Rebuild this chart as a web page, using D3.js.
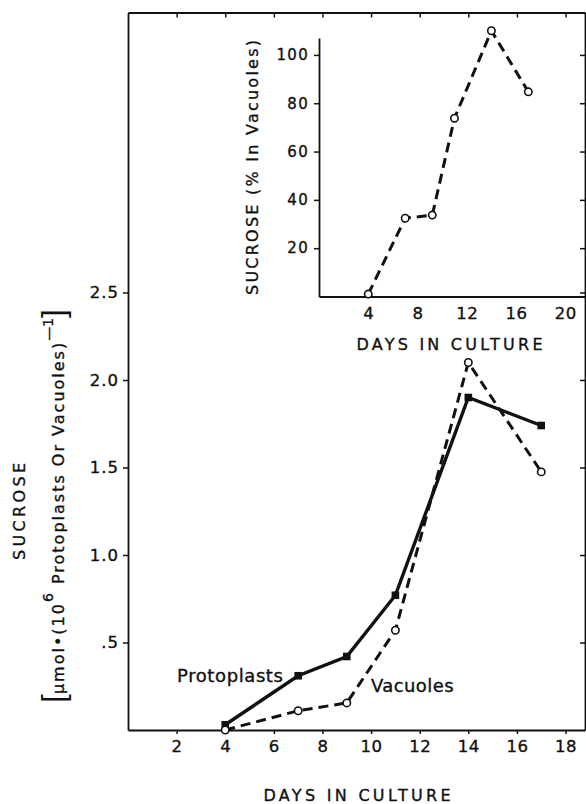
<!DOCTYPE html>
<html>
<head>
<meta charset="utf-8">
<script src="https://cdn.jsdelivr.net/npm/d3@7"></script>
<style>
  body { margin: 0; background: #fff; }
  svg text { font-family: "DejaVu Sans", sans-serif; fill: #111; stroke: #111; stroke-width: 0.35px; }
</style>
</head>
<body>
<div class="chart"></div>
<script>
// ---- data ----
var days = [4, 7, 9, 11, 14, 17];
var protoplasts = [0.03, 0.31, 0.42, 0.77, 1.90, 1.74];
var vacuoles = [0.0, 0.11, 0.155, 0.57, 2.10, 1.475];

var insetDays = [4, 7, 9.2, 11, 14, 17];
var insetPercent = [1, 32.4, 33.7, 73.8, 110, 84.7];

var mainXTicks = [2, 4, 6, 8, 10, 12, 14, 16, 18];
var mainYTicks = [0.5, 1.0, 1.5, 2.0, 2.5];
var mainYTickLabels = [".5", "1.0", "1.5", "2.0", "2.5"];
var insetXTicks = [4, 8, 12, 16, 20];
var insetYTicks = [20, 40, 60, 80, 100];

// ==================================

var w = 586;
var h = 804;
var ink = "#111";

var svg = d3.select(".chart")
    .append("svg")
    .attr("width", w)
    .attr("height", h);

var x = d3.scaleLinear().domain([0, 18.8]).range([128, 585]);
var y = d3.scaleLinear().domain([0, 4.1]).range([730, 12.5]);

var ix = d3.scaleLinear().domain([0, 21.6]).range([319, 585]);
var iy = d3.scaleLinear().domain([0, 107]).range([296.5, 38]);

var styleAxis = function(g, fontSize, spacing) {
    g.selectAll(".domain").attr("stroke", ink).attr("stroke-width", 1.8);
    g.selectAll(".tick line").attr("stroke", ink).attr("stroke-width", 1.5);
    g.selectAll(".tick text")
        .attr("fill", ink)
        .style("font-family", "'DejaVu Sans', sans-serif")
        .style("font-size", fontSize + "px")
        .style("letter-spacing", spacing + "px");
};

// main frame: bottom, left, top, right
svg.append("g")
    .attr("transform", "translate(0," + y(0) + ")")
    .call(d3.axisBottom(x).tickValues(mainXTicks).tickSize(4).tickSizeOuter(0).tickPadding(6))
    .call(styleAxis, 16.5, 0.5);

svg.append("g")
    .attr("transform", "translate(" + x(0) + ",0)")
    .call(d3.axisLeft(y).tickValues(mainYTicks).tickSize(5).tickSizeOuter(0).tickPadding(4)
        .tickFormat(function(d, i) { return mainYTickLabels[i]; }))
    .call(styleAxis, 16.5, 1);

svg.append("g")
    .attr("transform", "translate(0," + y.range()[1] + ")")
    .call(d3.axisTop(x).tickValues(mainXTicks).tickSize(-5).tickSizeOuter(0).tickFormat(""))
    .call(styleAxis, 16, 0);

svg.append("g")
    .attr("transform", "translate(" + x.range()[1] + ",0)")
    .call(d3.axisRight(y).tickValues(mainYTicks).tickSize(-5).tickSizeOuter(0).tickFormat(""))
    .call(styleAxis, 16, 0);

// inset axes
svg.append("g")
    .attr("transform", "translate(0," + iy(0) + ")")
    .call(d3.axisBottom(ix).tickValues(insetXTicks).tickSize(0).tickSizeOuter(0).tickPadding(11))
    .call(styleAxis, 16.5, 0.5);

svg.append("g")
    .attr("transform", "translate(" + ix(0) + ",0)")
    .call(d3.axisLeft(iy).tickValues(insetYTicks).tickSize(5).tickSizeOuter(0).tickPadding(5))
    .call(styleAxis, 15, 1.3);

var insetRight = svg.append("g")
    .attr("transform", "translate(" + ix.range()[1] + ",0)")
    .call(d3.axisRight(iy).tickValues(insetYTicks).tickSize(-5).tickSizeOuter(0).tickFormat(""))
    .call(styleAxis, 16, 0);
insetRight.select(".domain").remove();

// lines
var mainLine = d3.line()
    .x(function(d) { return x(d[0]); })
    .y(function(d) { return y(d[1]); });

var insetLine = d3.line()
    .x(function(d) { return ix(d[0]); })
    .y(function(d) { return iy(d[1]); });

var protoPts = days.map(function(d, i) { return [d, protoplasts[i]]; });
var vacPts = days.map(function(d, i) { return [d, vacuoles[i]]; });
var insetPts = insetDays.map(function(d, i) { return [d, insetPercent[i]]; });

svg.append("path")
    .datum(vacPts)
    .attr("d", mainLine)
    .attr("fill", "none")
    .attr("stroke", ink)
    .attr("stroke-width", 3)
    .attr("stroke-dasharray", "10,6");

svg.append("path")
    .datum(protoPts)
    .attr("d", mainLine)
    .attr("fill", "none")
    .attr("stroke", ink)
    .attr("stroke-width", 3.4);

svg.append("path")
    .datum(insetPts)
    .attr("d", insetLine)
    .attr("fill", "none")
    .attr("stroke", ink)
    .attr("stroke-width", 3)
    .attr("stroke-dasharray", "10,6");

// markers
svg.selectAll("rect.proto")
    .data(protoPts)
    .enter()
    .append("rect")
    .attr("class", "proto")
    .attr("x", function(d) { return x(d[0]) - 3.8; })
    .attr("y", function(d) { return y(d[1]) - 3.8; })
    .attr("width", 7.6)
    .attr("height", 7.6)
    .attr("fill", ink);

svg.selectAll("circle.vac")
    .data(vacPts)
    .enter()
    .append("circle")
    .attr("class", "vac")
    .attr("cx", function(d) { return x(d[0]); })
    .attr("cy", function(d) { return y(d[1]); })
    .attr("r", 3.7)
    .attr("fill", "#fff")
    .attr("stroke", ink)
    .attr("stroke-width", 1.6);

svg.selectAll("circle.ins")
    .data(insetPts)
    .enter()
    .append("circle")
    .attr("class", "ins")
    .attr("cx", function(d) { return ix(d[0]); })
    .attr("cy", function(d) { return iy(d[1]); })
    .attr("r", 3.7)
    .attr("fill", "#fff")
    .attr("stroke", ink)
    .attr("stroke-width", 1.6);

// series labels
svg.append("text")
    .attr("x", 177)
    .attr("y", 681.5)
    .style("font-size", "18px")
    .style("letter-spacing", "0.6px")
    .text("Protoplasts");

svg.append("text")
    .attr("x", 371)
    .attr("y", 691.5)
    .style("font-size", "18px")
    .style("letter-spacing", "0.4px")
    .text("Vacuoles");

// axis titles
svg.append("text")
    .attr("x", 357)
    .attr("y", 801)
    .attr("text-anchor", "middle")
    .attr("textLength", 187)
    .style("font-size", "16px")
    .text("DAYS IN CULTURE");

svg.append("text")
    .attr("x", 449.5)
    .attr("y", 349.5)
    .attr("text-anchor", "middle")
    .attr("textLength", 186)
    .style("font-size", "16px")
    .text("DAYS IN CULTURE");

svg.append("text")
    .attr("transform", "translate(25,511.5) rotate(-90)")
    .attr("text-anchor", "middle")
    .attr("textLength", 97)
    .style("font-size", "16px")
    .text("SUCROSE");

svg.append("text")
    .attr("transform", "translate(258,167.5) rotate(-90)")
    .attr("text-anchor", "middle")
    .attr("textLength", 255)
    .style("font-size", "16px")
    .text("SUCROSE (% In Vacuoles)");

var unit = svg.append("text")
    .attr("transform", "translate(64,506) rotate(-90)")
    .attr("text-anchor", "middle")
    .style("font-size", "16px")
    .style("letter-spacing", "2px");

unit.append("tspan").style("font-family", "'Liberation Sans', sans-serif")
    .style("font-size", "31px").style("stroke-width", "0px").style("letter-spacing", "0px").text("[");
unit.append("tspan").text("\u00b5mol\u2022(10");
unit.append("tspan").attr("dy", -11).style("font-size", "14px").text("6");
unit.append("tspan").attr("dy", 11).text(" Protoplasts Or Vacuoles)");
unit.append("tspan").attr("dy", -11).style("font-size", "14px").style("letter-spacing", "0px").text("\u20141");
unit.append("tspan").attr("dy", 11).style("font-family", "'Liberation Sans', sans-serif")
    .style("font-size", "31px").style("stroke-width", "0px").style("letter-spacing", "0px").text("]");
</script>
</body>
</html>
